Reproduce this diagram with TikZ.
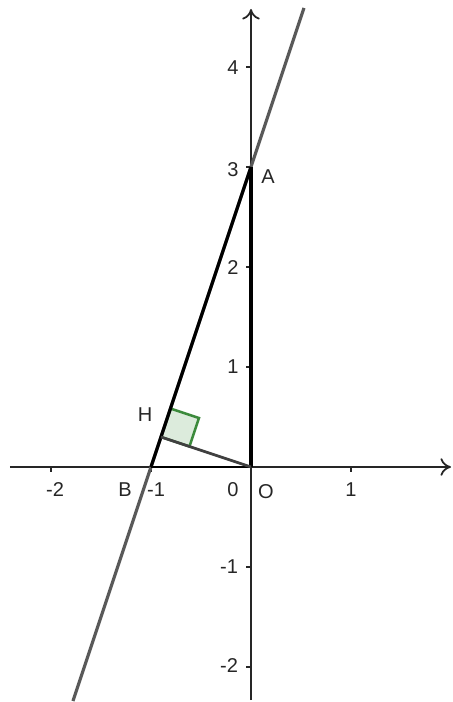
\documentclass[tikz,border=0pt]{standalone}
\usepackage{fontspec}
\setmainfont{Liberation Sans}
\usetikzlibrary{calc,arrows.meta}
\definecolor{markgreen}{HTML}{3C8A3C}
\definecolor{markfill}{HTML}{DCEBDC}
\begin{document}
\begin{tikzpicture}[x=1cm,y=1cm,
  axis/.style={line width=0.5pt,black!85,-{To[length=3pt,width=5pt]}},
  tick/.style={line width=0.35pt,black!85},
  lbl/.style={font=\fontsize{5.7pt}{6.5pt}\selectfont,text=black!85,inner sep=0pt},
  mainline/.style={line width=0.9pt,black!65},
  seg/.style={line width=0.9pt,black},
  rightmark/.style={draw=markgreen,fill=markfill,line width=0.7pt}]
\useasboundingbox (-2.51,-2.35) rectangle (2.01,4.67);
\coordinate (O) at (0,0);
\coordinate (A) at (0,3);
\coordinate (B) at (-1,0);
\coordinate (H) at (-0.9,0.3);
\coordinate (Lb) at (-1.78,-2.34);
\coordinate (Lt) at (0.53,4.59);
\coordinate (xl) at (-2.41,0);
\coordinate (xr) at (2.0,0);
\coordinate (yb) at (0,-2.33);
\coordinate (yt) at (0,4.58);
% axes
\draw[axis] (xl) -- (xr);
\draw[axis] (yb) -- (yt);
\foreach \x in {-2,-1,1} \draw[tick] (\x,0) -- (\x,-0.05);
\foreach \y in {-2,-1,1,2,3,4} \draw[tick] (0,\y) -- (-0.05,\y);
% tick labels
\node[lbl] (tx1) at (1,-0.23) {1};
\node[lbl] (txm1) at (-0.95,-0.23) {-1};
\node[lbl] (txm2) at (-1.96,-0.23) {-2};
\node[lbl] (tx0) at (-0.18,-0.23) {0};
\node[lbl] (ty4) at (-0.18,3.99) {4};
\node[lbl] (ty3) at (-0.18,2.97) {3};
\node[lbl] (ty2) at (-0.18,1.99) {2};
\node[lbl] (ty1) at (-0.18,1.0) {1};
\node[lbl] (tym1) at (-0.22,-1.0) {-1};
\node[lbl] (tym2) at (-0.22,-1.99) {-2};
% right angle marker
\path ($(H)!0.3cm!(O)$) coordinate (R1);
\path ($(H)!0.3cm!(A)$) coordinate (R2);
\draw[rightmark] (H) -- (R1) -- ($(R1)+(R2)-(H)$) -- (R2) -- cycle;
% lines
\draw[mainline] (Lb) -- (Lt);
\draw[seg] (B) -- (A);
\draw[seg] (A) -- (O);
\draw[seg,line width=0.75pt] (B) -- (O);
\draw[line width=0.8pt,black!75] (H) -- (O);
% point labels
\node[lbl] (lA) at (0.17,2.9) {A};
\node[lbl] (lH) at (-1.06,0.52) {H};
\node[lbl] (lB) at (-1.26,-0.23) {B};
\node[lbl] (lO) at (0.15,-0.25) {O};
\end{tikzpicture}
\end{document}
